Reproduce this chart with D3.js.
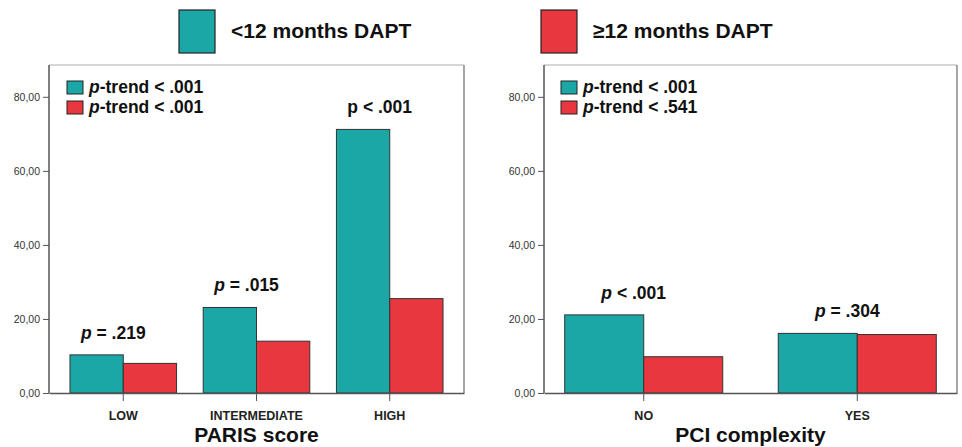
<!DOCTYPE html>
<html>
<head>
<meta charset="utf-8">
<script src="https://cdn.jsdelivr.net/npm/d3@7"></script>
<style>
  body { margin: 0; background: #fff; }
  svg { display: block; font-family: "Liberation Sans", Arial, sans-serif; }
</style>
</head>
<body>
<div id="chart"></div>
<script>
// data
const seriesNames = ["<12 months DAPT", "≥12 months DAPT"];
const seriesColors = ["#1aa7a5", "#e8373f"];

const parisCats = ["LOW", "INTERMEDIATE", "HIGH"];
const parisShort = [10.3, 23.1, 71.2];
const parisLong = [8.0, 14.0, 25.5];
const parisP = [["p", " = .219", true], ["p", " = .015", true], ["p", " < .001", false]];
const parisTrend = ["-trend < .001", "-trend < .001"];

const pciCats = ["NO", "YES"];
const pciShort = [21.1, 16.1];
const pciLong = [9.8, 15.8];
const pciP = [["p", " < .001", true], ["p", " = .304", true]];
const pciTrend = ["-trend < .001", "-trend < .541"];

const yTicks = [0, 20, 40, 60, 80];

const W = 962, H = 447;
const svg = d3.select("#chart").append("svg")
    .attr("width", W).attr("height", H);

// top legend
const topLegend = [
    {x: 179, tx: 231, name: seriesNames[0], color: seriesColors[0]},
    {x: 541, tx: 593, name: seriesNames[1], color: seriesColors[1]}
];
topLegend.forEach(d => {
    svg.append("rect")
        .attr("x", d.x).attr("y", 10).attr("width", 36).attr("height", 43)
        .attr("fill", d.color).attr("stroke", "#222").attr("stroke-width", 1.2);
    svg.append("text")
        .attr("x", d.tx).attr("y", 38)
        .attr("font-size", 21).attr("font-weight", "bold").attr("fill", "#111")
        .text(d.name);
});

function panel(opts) {
    const {left, right, cats, short, long, pLabels, trend, title, padInner, padOuter} = opts;
    const top = 65, bottom = 393;

    const y = d3.scaleLinear().domain([0, 88.6]).range([bottom, top]);
    const x = d3.scaleBand().domain(cats).range([left, right])
        .paddingInner(padInner).paddingOuter(padOuter);
    const xs = d3.scaleBand().domain([0, 1]).range([0, x.bandwidth()]);

    const g = svg.append("g");

    // frame
    g.append("line").attr("x1", left).attr("x2", right).attr("y1", top).attr("y2", top)
        .attr("stroke", "#c8c8c8").attr("stroke-width", 1.5);
    g.append("line").attr("x1", right).attr("x2", right).attr("y1", top).attr("y2", bottom)
        .attr("stroke", "#888").attr("stroke-width", 1.5);

    // bars
    const groups = g.selectAll("g.grp").data(cats).join("g")
        .attr("class", "grp")
        .attr("transform", d => `translate(${x(d)},0)`);
    groups.selectAll("rect").data((d, i) => [short[i], long[i]]).join("rect")
        .attr("x", (d, j) => xs(j))
        .attr("width", xs.bandwidth())
        .attr("y", d => y(d))
        .attr("height", d => bottom - y(d))
        .attr("fill", (d, j) => seriesColors[j])
        .attr("stroke", "#333").attr("stroke-width", 1);

    // y axis
    const yAxis = g.append("g")
        .attr("transform", `translate(${left},0)`)
        .call(d3.axisLeft(y).tickValues(yTicks).tickSize(6).tickPadding(3)
            .tickFormat(d => d3.format(".2f")(d).replace(".", ",")));
    yAxis.select(".domain").attr("d", `M0,${top}V${bottom}`).attr("stroke", "#555").attr("stroke-width", 1.5);
    yAxis.selectAll(".tick line").attr("stroke", "#555");
    yAxis.selectAll(".tick text").attr("font-size", 10.5).attr("fill", "#333")
        .attr("font-family", "Liberation Sans, Arial, sans-serif");

    // x axis
    const xAxis = g.append("g")
        .attr("transform", `translate(0,${bottom})`)
        .call(d3.axisBottom(x).tickSize(8).tickPadding(10).tickSizeOuter(0));
    xAxis.select(".domain").attr("stroke", "#555").attr("stroke-width", 1.5);
    xAxis.selectAll(".tick line").attr("stroke", "#555");
    xAxis.selectAll(".tick text").attr("font-size", 12.5).attr("font-weight", "bold")
        .attr("fill", "#222").attr("font-family", "Liberation Sans, Arial, sans-serif");

    // p-value labels above each group
    g.selectAll("text.pval").data(cats).join("text")
        .attr("class", "pval")
        .attr("x", d => x(d) + x.bandwidth() / 2 - 10)
        .attr("y", (d, i) => y(Math.max(short[i], long[i])) - 16)
        .attr("text-anchor", "middle")
        .attr("font-size", 17.5).attr("font-weight", "bold").attr("fill", "#111")
        .each(function (d, i) {
            const t = d3.select(this);
            t.append("tspan").attr("font-style", pLabels[i][2] ? "italic" : "normal").text(pLabels[i][0]);
            t.append("tspan").text(pLabels[i][1]);
        });

    // inner legend
    const leg = g.append("g").attr("transform", `translate(${left + opts.legendDx},0)`);
    trend.forEach((t, i) => {
        leg.append("rect")
            .attr("x", 0).attr("y", 81 + i * 20).attr("width", 16).attr("height", 13)
            .attr("fill", seriesColors[i]).attr("stroke", "#222").attr("stroke-width", 1);
        const tx = leg.append("text")
            .attr("x", 22).attr("y", 93 + i * 20)
            .attr("font-size", 17.5).attr("font-weight", "bold").attr("fill", "#111");
        tx.append("tspan").attr("font-style", "italic").text("p");
        tx.append("tspan").text(t);
    });

    // axis title
    g.append("text")
        .attr("x", (left + right) / 2).attr("y", 442)
        .attr("text-anchor", "middle")
        .attr("font-size", 21).attr("font-weight", "bold").attr("fill", "#111")
        .text(title);
}

panel({left: 49, right: 464, cats: parisCats, short: parisShort, long: parisLong,
    pLabels: parisP, trend: parisTrend, title: "PARIS score",
    padInner: 0.2, padOuter: 0.1575, legendDx: 18});

panel({left: 544, right: 957, cats: pciCats, short: pciShort, long: pciLong,
    pLabels: pciP, trend: pciTrend, title: "PCI complexity",
    padInner: 0.26, padOuter: 0.097, legendDx: 17});
</script>
</body>
</html>
